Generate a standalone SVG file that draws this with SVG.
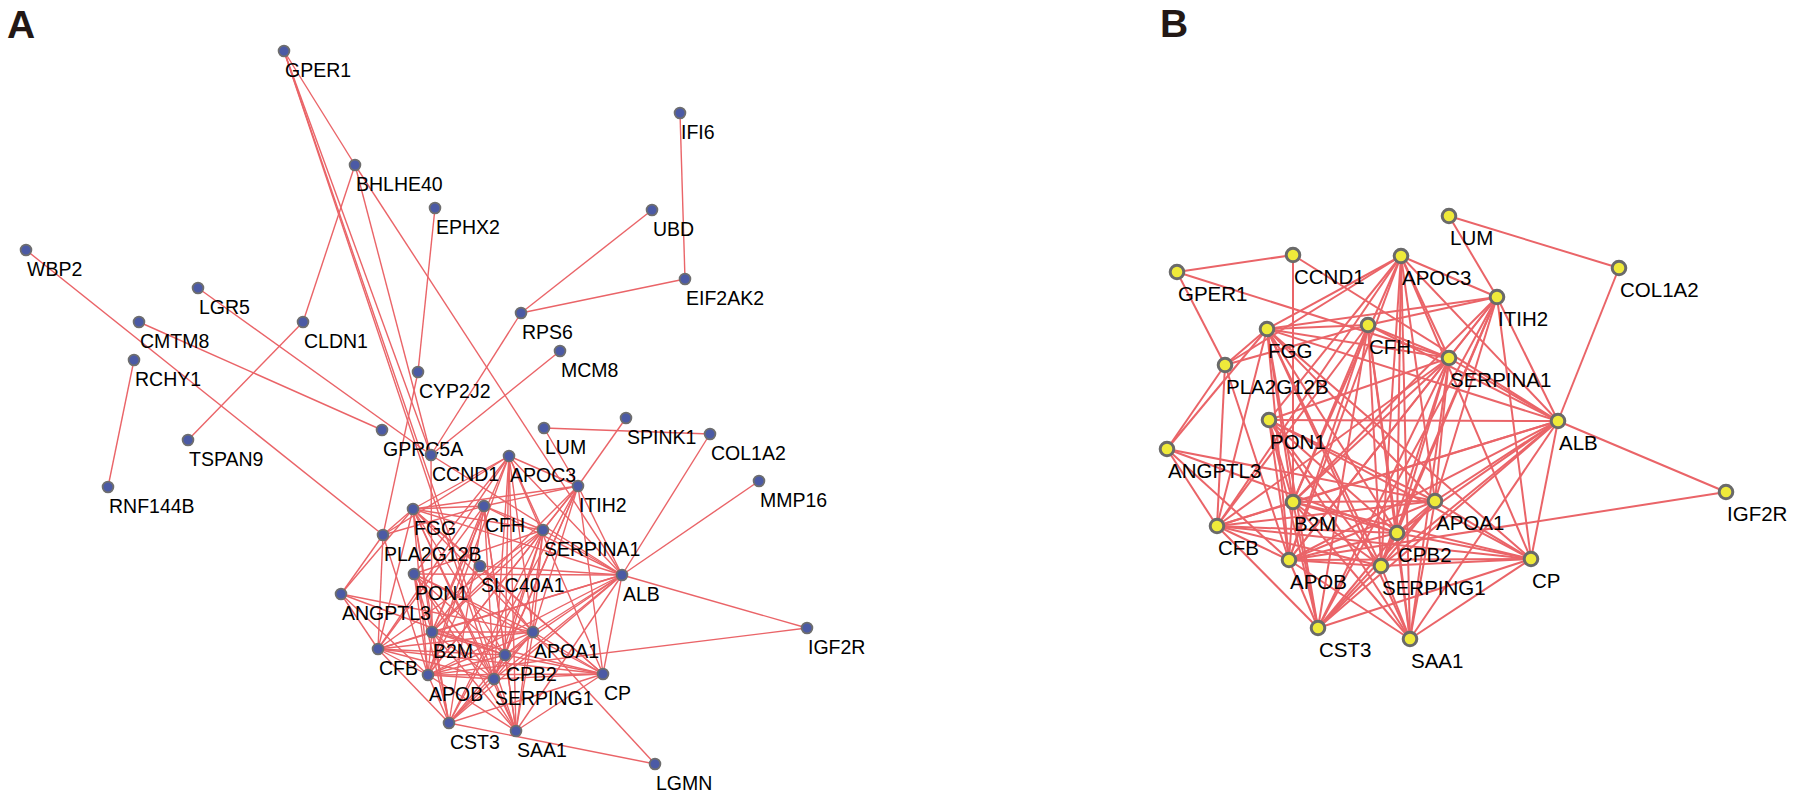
<svg xmlns="http://www.w3.org/2000/svg" width="1796" height="799" viewBox="0 0 1796 799">
<style>
.ea{stroke:#EA6468;stroke-width:1.4;fill:none}
.eb{stroke:#EA6468;stroke-width:2;fill:none}
.na circle{fill:#4B5AA5;stroke:#6E6E6E;stroke-width:1.8}
.nb circle{fill:#EFEA3A;stroke:#6A6A6A;stroke-width:3}
text{font-family:"Liberation Sans",Arial,sans-serif;fill:#000}
.na text{font-size:19.5px}
.nb text{font-size:20.5px}
.panel{font-size:39px;font-weight:bold;fill:#231815}
</style>
<text class="panel" x="7" y="38">A</text>
<text class="panel" x="1160" y="37">B</text>
<g id="connectors-A" class="ea">
<line x1="284" y1="51" x2="355" y2="165"/>
<line x1="284" y1="51" x2="431" y2="455"/>
<line x1="284" y1="51" x2="494" y2="679"/>
<line x1="284" y1="51" x2="516" y2="731"/>
<line x1="355" y1="165" x2="303" y2="322"/>
<line x1="355" y1="165" x2="431" y2="455"/>
<line x1="355" y1="165" x2="622" y2="575"/>
<line x1="303" y1="322" x2="188" y2="440"/>
<line x1="435" y1="208" x2="418" y2="372"/>
<line x1="418" y1="372" x2="383" y2="535"/>
<line x1="26" y1="250" x2="383" y2="535"/>
<line x1="198" y1="288" x2="431" y2="455"/>
<line x1="139" y1="322" x2="382" y2="430"/>
<line x1="134" y1="360" x2="108" y2="487"/>
<line x1="680" y1="113" x2="685" y2="279"/>
<line x1="652" y1="210" x2="521" y2="313"/>
<line x1="521" y1="313" x2="685" y2="279"/>
<line x1="521" y1="313" x2="431" y2="455"/>
<line x1="560" y1="351" x2="431" y2="455"/>
<line x1="544" y1="428" x2="710" y2="434"/>
<line x1="544" y1="428" x2="578" y2="486"/>
<line x1="626" y1="418" x2="578" y2="486"/>
<line x1="710" y1="434" x2="622" y2="575"/>
<line x1="759" y1="481" x2="622" y2="575"/>
<line x1="807" y1="628" x2="622" y2="575"/>
<line x1="807" y1="628" x2="428" y2="675"/>
<line x1="655" y1="764" x2="449" y2="723"/>
<line x1="655" y1="764" x2="533" y2="632"/>
<line x1="509" y1="456" x2="578" y2="486"/>
<line x1="509" y1="456" x2="622" y2="575"/>
<line x1="509" y1="456" x2="543" y2="530"/>
<line x1="509" y1="456" x2="603" y2="674"/>
<line x1="509" y1="456" x2="505" y2="655"/>
<line x1="509" y1="456" x2="516" y2="731"/>
<line x1="509" y1="456" x2="494" y2="679"/>
<line x1="509" y1="456" x2="413" y2="509"/>
<line x1="509" y1="456" x2="383" y2="535"/>
<line x1="509" y1="456" x2="432" y2="632"/>
<line x1="509" y1="456" x2="428" y2="675"/>
<line x1="509" y1="456" x2="378" y2="649"/>
<line x1="509" y1="456" x2="533" y2="632"/>
<line x1="578" y1="486" x2="543" y2="530"/>
<line x1="578" y1="486" x2="622" y2="575"/>
<line x1="578" y1="486" x2="484" y2="506"/>
<line x1="578" y1="486" x2="413" y2="509"/>
<line x1="578" y1="486" x2="603" y2="674"/>
<line x1="578" y1="486" x2="533" y2="632"/>
<line x1="578" y1="486" x2="505" y2="655"/>
<line x1="578" y1="486" x2="494" y2="679"/>
<line x1="578" y1="486" x2="428" y2="675"/>
<line x1="578" y1="486" x2="432" y2="632"/>
<line x1="578" y1="486" x2="449" y2="723"/>
<line x1="543" y1="530" x2="622" y2="575"/>
<line x1="543" y1="530" x2="533" y2="632"/>
<line x1="543" y1="530" x2="505" y2="655"/>
<line x1="543" y1="530" x2="494" y2="679"/>
<line x1="543" y1="530" x2="516" y2="731"/>
<line x1="543" y1="530" x2="449" y2="723"/>
<line x1="543" y1="530" x2="428" y2="675"/>
<line x1="543" y1="530" x2="432" y2="632"/>
<line x1="543" y1="530" x2="378" y2="649"/>
<line x1="543" y1="530" x2="413" y2="509"/>
<line x1="543" y1="530" x2="414" y2="574"/>
<line x1="543" y1="530" x2="484" y2="506"/>
<line x1="622" y1="575" x2="414" y2="574"/>
<line x1="622" y1="575" x2="484" y2="506"/>
<line x1="622" y1="575" x2="413" y2="509"/>
<line x1="622" y1="575" x2="533" y2="632"/>
<line x1="622" y1="575" x2="505" y2="655"/>
<line x1="622" y1="575" x2="494" y2="679"/>
<line x1="622" y1="575" x2="428" y2="675"/>
<line x1="622" y1="575" x2="432" y2="632"/>
<line x1="622" y1="575" x2="378" y2="649"/>
<line x1="622" y1="575" x2="449" y2="723"/>
<line x1="622" y1="575" x2="516" y2="731"/>
<line x1="622" y1="575" x2="603" y2="674"/>
<line x1="484" y1="506" x2="413" y2="509"/>
<line x1="484" y1="506" x2="383" y2="535"/>
<line x1="484" y1="506" x2="505" y2="655"/>
<line x1="484" y1="506" x2="494" y2="679"/>
<line x1="484" y1="506" x2="428" y2="675"/>
<line x1="484" y1="506" x2="432" y2="632"/>
<line x1="484" y1="506" x2="378" y2="649"/>
<line x1="484" y1="506" x2="449" y2="723"/>
<line x1="484" y1="506" x2="516" y2="731"/>
<line x1="413" y1="509" x2="383" y2="535"/>
<line x1="413" y1="509" x2="341" y2="594"/>
<line x1="413" y1="509" x2="432" y2="632"/>
<line x1="413" y1="509" x2="378" y2="649"/>
<line x1="413" y1="509" x2="428" y2="675"/>
<line x1="413" y1="509" x2="505" y2="655"/>
<line x1="413" y1="509" x2="494" y2="679"/>
<line x1="413" y1="509" x2="533" y2="632"/>
<line x1="413" y1="509" x2="449" y2="723"/>
<line x1="413" y1="509" x2="516" y2="731"/>
<line x1="413" y1="509" x2="603" y2="674"/>
<line x1="383" y1="535" x2="341" y2="594"/>
<line x1="383" y1="535" x2="378" y2="649"/>
<line x1="383" y1="535" x2="428" y2="675"/>
<line x1="414" y1="574" x2="432" y2="632"/>
<line x1="414" y1="574" x2="428" y2="675"/>
<line x1="414" y1="574" x2="505" y2="655"/>
<line x1="414" y1="574" x2="533" y2="632"/>
<line x1="414" y1="574" x2="494" y2="679"/>
<line x1="414" y1="574" x2="516" y2="731"/>
<line x1="414" y1="574" x2="449" y2="723"/>
<line x1="414" y1="574" x2="603" y2="674"/>
<line x1="414" y1="574" x2="509" y2="456"/>
<line x1="341" y1="594" x2="533" y2="632"/>
<line x1="341" y1="594" x2="505" y2="655"/>
<line x1="341" y1="594" x2="378" y2="649"/>
<line x1="341" y1="594" x2="428" y2="675"/>
<line x1="432" y1="632" x2="533" y2="632"/>
<line x1="432" y1="632" x2="505" y2="655"/>
<line x1="432" y1="632" x2="494" y2="679"/>
<line x1="432" y1="632" x2="378" y2="649"/>
<line x1="432" y1="632" x2="428" y2="675"/>
<line x1="432" y1="632" x2="449" y2="723"/>
<line x1="432" y1="632" x2="516" y2="731"/>
<line x1="432" y1="632" x2="603" y2="674"/>
<line x1="533" y1="632" x2="505" y2="655"/>
<line x1="533" y1="632" x2="494" y2="679"/>
<line x1="533" y1="632" x2="378" y2="649"/>
<line x1="533" y1="632" x2="428" y2="675"/>
<line x1="533" y1="632" x2="449" y2="723"/>
<line x1="533" y1="632" x2="516" y2="731"/>
<line x1="533" y1="632" x2="603" y2="674"/>
<line x1="378" y1="649" x2="505" y2="655"/>
<line x1="378" y1="649" x2="494" y2="679"/>
<line x1="378" y1="649" x2="428" y2="675"/>
<line x1="378" y1="649" x2="603" y2="674"/>
<line x1="378" y1="649" x2="449" y2="723"/>
<line x1="505" y1="655" x2="494" y2="679"/>
<line x1="505" y1="655" x2="428" y2="675"/>
<line x1="505" y1="655" x2="603" y2="674"/>
<line x1="505" y1="655" x2="516" y2="731"/>
<line x1="505" y1="655" x2="449" y2="723"/>
<line x1="428" y1="675" x2="494" y2="679"/>
<line x1="428" y1="675" x2="603" y2="674"/>
<line x1="428" y1="675" x2="449" y2="723"/>
<line x1="428" y1="675" x2="516" y2="731"/>
<line x1="494" y1="679" x2="603" y2="674"/>
<line x1="494" y1="679" x2="516" y2="731"/>
<line x1="494" y1="679" x2="449" y2="723"/>
<line x1="603" y1="674" x2="516" y2="731"/>
<line x1="603" y1="674" x2="449" y2="723"/>
<line x1="431" y1="455" x2="432" y2="632"/>
<line x1="431" y1="455" x2="622" y2="575"/>
<line x1="480" y1="566" x2="603" y2="674"/>
<line x1="480" y1="566" x2="622" y2="575"/>
<line x1="480" y1="566" x2="432" y2="632"/>
<line x1="480" y1="566" x2="533" y2="632"/>
<line x1="480" y1="566" x2="413" y2="509"/>
<line x1="480" y1="566" x2="428" y2="675"/>
</g>
<g id="connectors-B" class="eb">
<line x1="1177" y1="272" x2="1293" y2="255"/>
<line x1="1177" y1="272" x2="1225" y2="365"/>
<line x1="1177" y1="272" x2="1449" y2="358"/>
<line x1="1449" y1="216" x2="1497" y2="297"/>
<line x1="1449" y1="216" x2="1619" y2="268"/>
<line x1="1619" y1="268" x2="1558" y2="421"/>
<line x1="1726" y1="492" x2="1558" y2="421"/>
<line x1="1726" y1="492" x2="1289" y2="560"/>
<line x1="1293" y1="255" x2="1293" y2="502"/>
<line x1="1293" y1="255" x2="1558" y2="421"/>
<line x1="1401" y1="256" x2="1497" y2="297"/>
<line x1="1401" y1="256" x2="1558" y2="421"/>
<line x1="1401" y1="256" x2="1449" y2="358"/>
<line x1="1401" y1="256" x2="1531" y2="559"/>
<line x1="1401" y1="256" x2="1397" y2="533"/>
<line x1="1401" y1="256" x2="1410" y2="639"/>
<line x1="1401" y1="256" x2="1381" y2="566"/>
<line x1="1401" y1="256" x2="1267" y2="329"/>
<line x1="1401" y1="256" x2="1225" y2="365"/>
<line x1="1401" y1="256" x2="1293" y2="502"/>
<line x1="1401" y1="256" x2="1289" y2="560"/>
<line x1="1401" y1="256" x2="1217" y2="526"/>
<line x1="1401" y1="256" x2="1435" y2="501"/>
<line x1="1497" y1="297" x2="1449" y2="358"/>
<line x1="1497" y1="297" x2="1558" y2="421"/>
<line x1="1497" y1="297" x2="1368" y2="325"/>
<line x1="1497" y1="297" x2="1267" y2="329"/>
<line x1="1497" y1="297" x2="1531" y2="559"/>
<line x1="1497" y1="297" x2="1435" y2="501"/>
<line x1="1497" y1="297" x2="1397" y2="533"/>
<line x1="1497" y1="297" x2="1381" y2="566"/>
<line x1="1497" y1="297" x2="1289" y2="560"/>
<line x1="1497" y1="297" x2="1293" y2="502"/>
<line x1="1497" y1="297" x2="1318" y2="628"/>
<line x1="1449" y1="358" x2="1558" y2="421"/>
<line x1="1449" y1="358" x2="1435" y2="501"/>
<line x1="1449" y1="358" x2="1397" y2="533"/>
<line x1="1449" y1="358" x2="1381" y2="566"/>
<line x1="1449" y1="358" x2="1410" y2="639"/>
<line x1="1449" y1="358" x2="1318" y2="628"/>
<line x1="1449" y1="358" x2="1289" y2="560"/>
<line x1="1449" y1="358" x2="1293" y2="502"/>
<line x1="1449" y1="358" x2="1217" y2="526"/>
<line x1="1449" y1="358" x2="1267" y2="329"/>
<line x1="1449" y1="358" x2="1269" y2="420"/>
<line x1="1449" y1="358" x2="1368" y2="325"/>
<line x1="1558" y1="421" x2="1269" y2="420"/>
<line x1="1558" y1="421" x2="1368" y2="325"/>
<line x1="1558" y1="421" x2="1267" y2="329"/>
<line x1="1558" y1="421" x2="1435" y2="501"/>
<line x1="1558" y1="421" x2="1397" y2="533"/>
<line x1="1558" y1="421" x2="1381" y2="566"/>
<line x1="1558" y1="421" x2="1289" y2="560"/>
<line x1="1558" y1="421" x2="1293" y2="502"/>
<line x1="1558" y1="421" x2="1217" y2="526"/>
<line x1="1558" y1="421" x2="1318" y2="628"/>
<line x1="1558" y1="421" x2="1410" y2="639"/>
<line x1="1558" y1="421" x2="1531" y2="559"/>
<line x1="1368" y1="325" x2="1267" y2="329"/>
<line x1="1368" y1="325" x2="1225" y2="365"/>
<line x1="1368" y1="325" x2="1397" y2="533"/>
<line x1="1368" y1="325" x2="1381" y2="566"/>
<line x1="1368" y1="325" x2="1289" y2="560"/>
<line x1="1368" y1="325" x2="1293" y2="502"/>
<line x1="1368" y1="325" x2="1217" y2="526"/>
<line x1="1368" y1="325" x2="1318" y2="628"/>
<line x1="1368" y1="325" x2="1410" y2="639"/>
<line x1="1267" y1="329" x2="1225" y2="365"/>
<line x1="1267" y1="329" x2="1167" y2="449"/>
<line x1="1267" y1="329" x2="1293" y2="502"/>
<line x1="1267" y1="329" x2="1217" y2="526"/>
<line x1="1267" y1="329" x2="1289" y2="560"/>
<line x1="1267" y1="329" x2="1397" y2="533"/>
<line x1="1267" y1="329" x2="1381" y2="566"/>
<line x1="1267" y1="329" x2="1435" y2="501"/>
<line x1="1267" y1="329" x2="1318" y2="628"/>
<line x1="1267" y1="329" x2="1410" y2="639"/>
<line x1="1267" y1="329" x2="1531" y2="559"/>
<line x1="1225" y1="365" x2="1167" y2="449"/>
<line x1="1225" y1="365" x2="1217" y2="526"/>
<line x1="1225" y1="365" x2="1289" y2="560"/>
<line x1="1269" y1="420" x2="1293" y2="502"/>
<line x1="1269" y1="420" x2="1289" y2="560"/>
<line x1="1269" y1="420" x2="1397" y2="533"/>
<line x1="1269" y1="420" x2="1435" y2="501"/>
<line x1="1269" y1="420" x2="1381" y2="566"/>
<line x1="1269" y1="420" x2="1410" y2="639"/>
<line x1="1269" y1="420" x2="1318" y2="628"/>
<line x1="1269" y1="420" x2="1531" y2="559"/>
<line x1="1269" y1="420" x2="1401" y2="256"/>
<line x1="1167" y1="449" x2="1435" y2="501"/>
<line x1="1167" y1="449" x2="1397" y2="533"/>
<line x1="1167" y1="449" x2="1217" y2="526"/>
<line x1="1167" y1="449" x2="1289" y2="560"/>
<line x1="1293" y1="502" x2="1435" y2="501"/>
<line x1="1293" y1="502" x2="1397" y2="533"/>
<line x1="1293" y1="502" x2="1381" y2="566"/>
<line x1="1293" y1="502" x2="1217" y2="526"/>
<line x1="1293" y1="502" x2="1289" y2="560"/>
<line x1="1293" y1="502" x2="1318" y2="628"/>
<line x1="1293" y1="502" x2="1410" y2="639"/>
<line x1="1293" y1="502" x2="1531" y2="559"/>
<line x1="1435" y1="501" x2="1397" y2="533"/>
<line x1="1435" y1="501" x2="1381" y2="566"/>
<line x1="1435" y1="501" x2="1217" y2="526"/>
<line x1="1435" y1="501" x2="1289" y2="560"/>
<line x1="1435" y1="501" x2="1318" y2="628"/>
<line x1="1435" y1="501" x2="1410" y2="639"/>
<line x1="1435" y1="501" x2="1531" y2="559"/>
<line x1="1217" y1="526" x2="1397" y2="533"/>
<line x1="1217" y1="526" x2="1381" y2="566"/>
<line x1="1217" y1="526" x2="1289" y2="560"/>
<line x1="1217" y1="526" x2="1531" y2="559"/>
<line x1="1217" y1="526" x2="1318" y2="628"/>
<line x1="1397" y1="533" x2="1381" y2="566"/>
<line x1="1397" y1="533" x2="1289" y2="560"/>
<line x1="1397" y1="533" x2="1531" y2="559"/>
<line x1="1397" y1="533" x2="1410" y2="639"/>
<line x1="1397" y1="533" x2="1318" y2="628"/>
<line x1="1289" y1="560" x2="1381" y2="566"/>
<line x1="1289" y1="560" x2="1531" y2="559"/>
<line x1="1289" y1="560" x2="1318" y2="628"/>
<line x1="1289" y1="560" x2="1410" y2="639"/>
<line x1="1381" y1="566" x2="1531" y2="559"/>
<line x1="1381" y1="566" x2="1410" y2="639"/>
<line x1="1381" y1="566" x2="1318" y2="628"/>
<line x1="1531" y1="559" x2="1410" y2="639"/>
<line x1="1531" y1="559" x2="1318" y2="628"/>
</g>
<g id="nodes-A">
<g id="a-GPER1" class="na"><circle cx="284" cy="51" r="5.4"/><text x="285" y="77">GPER1</text></g>
<g id="a-BHLHE40" class="na"><circle cx="355" cy="165" r="5.4"/><text x="356" y="191">BHLHE40</text></g>
<g id="a-EPHX2" class="na"><circle cx="435" cy="208" r="5.4"/><text x="436" y="234">EPHX2</text></g>
<g id="a-WBP2" class="na"><circle cx="26" cy="250" r="5.4"/><text x="27" y="276">WBP2</text></g>
<g id="a-LGR5" class="na"><circle cx="198" cy="288" r="5.4"/><text x="199" y="314">LGR5</text></g>
<g id="a-CLDN1" class="na"><circle cx="303" cy="322" r="5.4"/><text x="304" y="348">CLDN1</text></g>
<g id="a-CMTM8" class="na"><circle cx="139" cy="322" r="5.4"/><text x="140" y="348">CMTM8</text></g>
<g id="a-RCHY1" class="na"><circle cx="134" cy="360" r="5.4"/><text x="135" y="386">RCHY1</text></g>
<g id="a-RPS6" class="na"><circle cx="521" cy="313" r="5.4"/><text x="522" y="339">RPS6</text></g>
<g id="a-MCM8" class="na"><circle cx="560" cy="351" r="5.4"/><text x="561" y="377">MCM8</text></g>
<g id="a-CYP2J2" class="na"><circle cx="418" cy="372" r="5.4"/><text x="419" y="398">CYP2J2</text></g>
<g id="a-IFI6" class="na"><circle cx="680" cy="113" r="5.4"/><text x="681" y="139">IFI6</text></g>
<g id="a-UBD" class="na"><circle cx="652" cy="210" r="5.4"/><text x="653" y="236">UBD</text></g>
<g id="a-EIF2AK2" class="na"><circle cx="685" cy="279" r="5.4"/><text x="686" y="305">EIF2AK2</text></g>
<g id="a-TSPAN9" class="na"><circle cx="188" cy="440" r="5.4"/><text x="189" y="466">TSPAN9</text></g>
<g id="a-RNF144B" class="na"><circle cx="108" cy="487" r="5.4"/><text x="109" y="513">RNF144B</text></g>
<g id="a-GPRC5A" class="na"><circle cx="382" cy="430" r="5.4"/><text x="383" y="456">GPRC5A</text></g>
<g id="a-LUM" class="na"><circle cx="544" cy="428" r="5.4"/><text x="545" y="454">LUM</text></g>
<g id="a-SPINK1" class="na"><circle cx="626" cy="418" r="5.4"/><text x="627" y="444">SPINK1</text></g>
<g id="a-COL1A2" class="na"><circle cx="710" cy="434" r="5.4"/><text x="711" y="460">COL1A2</text></g>
<g id="a-MMP16" class="na"><circle cx="759" cy="481" r="5.4"/><text x="760" y="507">MMP16</text></g>
<g id="a-CCND1" class="na"><circle cx="431" cy="455" r="5.4"/><text x="432" y="481">CCND1</text></g>
<g id="a-APOC3" class="na"><circle cx="509" cy="456" r="5.4"/><text x="510" y="482">APOC3</text></g>
<g id="a-ITIH2" class="na"><circle cx="578" cy="486" r="5.4"/><text x="579" y="512">ITIH2</text></g>
<g id="a-FGG" class="na"><circle cx="413" cy="509" r="5.4"/><text x="414" y="535">FGG</text></g>
<g id="a-CFH" class="na"><circle cx="484" cy="506" r="5.4"/><text x="485" y="532">CFH</text></g>
<g id="a-SERPINA1" class="na"><circle cx="543" cy="530" r="5.4"/><text x="544" y="556">SERPINA1</text></g>
<g id="a-PLA2G12B" class="na"><circle cx="383" cy="535" r="5.4"/><text x="384" y="561">PLA2G12B</text></g>
<g id="a-SLC40A1" class="na"><circle cx="480" cy="566" r="5.4"/><text x="481" y="592">SLC40A1</text></g>
<g id="a-PON1" class="na"><circle cx="414" cy="574" r="5.4"/><text x="415" y="600">PON1</text></g>
<g id="a-ALB" class="na"><circle cx="622" cy="575" r="5.4"/><text x="623" y="601">ALB</text></g>
<g id="a-ANGPTL3" class="na"><circle cx="341" cy="594" r="5.4"/><text x="342" y="620">ANGPTL3</text></g>
<g id="a-B2M" class="na"><circle cx="432" cy="632" r="5.4"/><text x="433" y="658">B2M</text></g>
<g id="a-APOA1" class="na"><circle cx="533" cy="632" r="5.4"/><text x="534" y="658">APOA1</text></g>
<g id="a-IGF2R" class="na"><circle cx="807" cy="628" r="5.4"/><text x="808" y="654">IGF2R</text></g>
<g id="a-CFB" class="na"><circle cx="378" cy="649" r="5.4"/><text x="379" y="675">CFB</text></g>
<g id="a-CPB2" class="na"><circle cx="505" cy="655" r="5.4"/><text x="506" y="681">CPB2</text></g>
<g id="a-APOB" class="na"><circle cx="428" cy="675" r="5.4"/><text x="429" y="701">APOB</text></g>
<g id="a-SERPING1" class="na"><circle cx="494" cy="679" r="5.4"/><text x="495" y="705">SERPING1</text></g>
<g id="a-CP" class="na"><circle cx="603" cy="674" r="5.4"/><text x="604" y="700">CP</text></g>
<g id="a-CST3" class="na"><circle cx="449" cy="723" r="5.4"/><text x="450" y="749">CST3</text></g>
<g id="a-SAA1" class="na"><circle cx="516" cy="731" r="5.4"/><text x="517" y="757">SAA1</text></g>
<g id="a-LGMN" class="na"><circle cx="655" cy="764" r="5.4"/><text x="656" y="790">LGMN</text></g>
</g>
<g id="nodes-B">
<g id="b-LUM" class="nb"><circle cx="1449" cy="216" r="6.8"/><text x="1450" y="245">LUM</text></g>
<g id="b-COL1A2" class="nb"><circle cx="1619" cy="268" r="6.8"/><text x="1620" y="297">COL1A2</text></g>
<g id="b-GPER1" class="nb"><circle cx="1177" cy="272" r="6.8"/><text x="1178" y="301">GPER1</text></g>
<g id="b-CCND1" class="nb"><circle cx="1293" cy="255" r="6.8"/><text x="1294" y="284">CCND1</text></g>
<g id="b-APOC3" class="nb"><circle cx="1401" cy="256" r="6.8"/><text x="1402" y="285">APOC3</text></g>
<g id="b-ITIH2" class="nb"><circle cx="1497" cy="297" r="6.8"/><text x="1498" y="326">ITIH2</text></g>
<g id="b-FGG" class="nb"><circle cx="1267" cy="329" r="6.8"/><text x="1268" y="358">FGG</text></g>
<g id="b-CFH" class="nb"><circle cx="1368" cy="325" r="6.8"/><text x="1369" y="354">CFH</text></g>
<g id="b-SERPINA1" class="nb"><circle cx="1449" cy="358" r="6.8"/><text x="1450" y="387">SERPINA1</text></g>
<g id="b-PLA2G12B" class="nb"><circle cx="1225" cy="365" r="6.8"/><text x="1226" y="394">PLA2G12B</text></g>
<g id="b-PON1" class="nb"><circle cx="1269" cy="420" r="6.8"/><text x="1270" y="449">PON1</text></g>
<g id="b-ALB" class="nb"><circle cx="1558" cy="421" r="6.8"/><text x="1559" y="450">ALB</text></g>
<g id="b-ANGPTL3" class="nb"><circle cx="1167" cy="449" r="6.8"/><text x="1168" y="478">ANGPTL3</text></g>
<g id="b-IGF2R" class="nb"><circle cx="1726" cy="492" r="6.8"/><text x="1727" y="521">IGF2R</text></g>
<g id="b-B2M" class="nb"><circle cx="1293" cy="502" r="6.8"/><text x="1294" y="531">B2M</text></g>
<g id="b-APOA1" class="nb"><circle cx="1435" cy="501" r="6.8"/><text x="1436" y="530">APOA1</text></g>
<g id="b-CFB" class="nb"><circle cx="1217" cy="526" r="6.8"/><text x="1218" y="555">CFB</text></g>
<g id="b-CPB2" class="nb"><circle cx="1397" cy="533" r="6.8"/><text x="1398" y="562">CPB2</text></g>
<g id="b-APOB" class="nb"><circle cx="1289" cy="560" r="6.8"/><text x="1290" y="589">APOB</text></g>
<g id="b-SERPING1" class="nb"><circle cx="1381" cy="566" r="6.8"/><text x="1382" y="595">SERPING1</text></g>
<g id="b-CP" class="nb"><circle cx="1531" cy="559" r="6.8"/><text x="1532" y="588">CP</text></g>
<g id="b-CST3" class="nb"><circle cx="1318" cy="628" r="6.8"/><text x="1319" y="657">CST3</text></g>
<g id="b-SAA1" class="nb"><circle cx="1410" cy="639" r="6.8"/><text x="1411" y="668">SAA1</text></g>
</g>
</svg>
